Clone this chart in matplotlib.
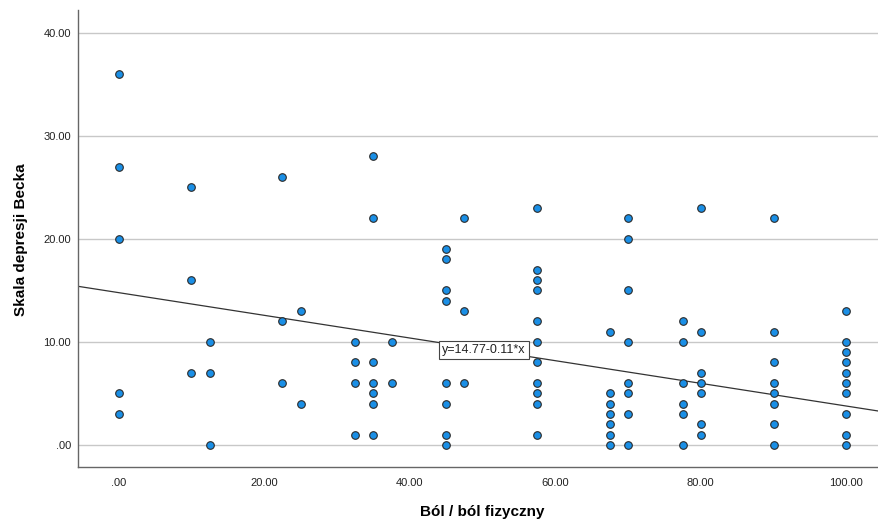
import numpy as np
import matplotlib
matplotlib.use("Agg")
import matplotlib.pyplot as plt

plt.rcParams['font.family'] = ['Liberation Sans', 'DejaVu Sans']

# Ból / ból fizyczny (x) vs Skala depresji Becka (y)
pain = ([0.0] * 5 + [10.0] * 3 + [12.5] * 3 + [22.5] * 3 + [25.0] * 2
        + [32.5] * 4 + [35.0] * 7 + [37.5] * 2 + [45.0] * 8 + [47.5] * 3
        + [57.5] * 11 + [67.5] * 7 + [70.0] * 8 + [77.5] * 6 + [80.0] * 7
        + [90.0] * 8 + [100.0] * 10)
beck = ([36, 27, 20, 5, 3]
        + [25, 16, 7]
        + [10, 7, 0]
        + [26, 12, 6]
        + [13, 4]
        + [10, 8, 6, 1]
        + [28, 22, 8, 6, 5, 4, 1]
        + [10, 6]
        + [19, 18, 15, 14, 6, 4, 1, 0]
        + [22, 13, 6]
        + [23, 17, 16, 15, 12, 10, 8, 6, 5, 4, 1]
        + [11, 5, 4, 3, 2, 1, 0]
        + [22, 20, 15, 10, 6, 5, 3, 0]
        + [12, 10, 6, 4, 3, 0]
        + [23, 11, 7, 6, 5, 2, 1]
        + [22, 11, 8, 6, 5, 4, 2, 0]
        + [13, 10, 9, 8, 7, 6, 5, 3, 1, 0])

intercept = 14.77
slope = -0.11
fit_label = "y=14.77-0.11*x"

x_ticks = [0, 20, 40, 60, 80, 100]
y_ticks = [0, 10, 20, 30, 40]

fig = plt.figure(figsize=(8.79, 5.23), dpi=100)
ax = fig.add_axes([0.0887, 0.107, 0.9113, 0.874])

xlim = (-5.6, 104.5)
ylim = (-2.15, 42.2)
ax.set_xlim(*xlim)
ax.set_ylim(*ylim)

for yt in y_ticks:
    ax.axhline(yt, color='#c8c8c8', lw=1.0, zorder=0)

xl = np.array(xlim)
ax.plot(xl, intercept + slope * xl, color='#333333', lw=0.9, zorder=2)

ax.scatter(pain, beck, s=30, color='#1a8fe6', edgecolors='#2a2a2a',
           linewidths=0.8, zorder=3)

ax.text(50.2, 9.2, fit_label, fontsize=9, ha='center', va='center',
        color='#222222', zorder=4,
        bbox=dict(boxstyle='square,pad=0.25', fc='white', ec='#444444', lw=0.8))

ax.set_xticks(x_ticks)
ax.set_yticks(y_ticks)
ax.set_xticklabels(['.00' if v == 0 else f'{v:.2f}' for v in x_ticks], fontsize=8)
ax.set_yticklabels(['.00' if v == 0 else f'{v:.2f}' for v in y_ticks], fontsize=8)
ax.tick_params(length=0, pad=8, colors='#222222')
ax.tick_params(axis='y', pad=5)

for side in ['top', 'right']:
    ax.spines[side].set_visible(False)
for side in ['left', 'bottom']:
    ax.spines[side].set_color('#666666')
    ax.spines[side].set_linewidth(1.0)

ax.set_xlabel("Ból / ból fizyczny", fontsize=11, fontweight='bold')
ax.set_ylabel("Skala depresji Becka", fontsize=11, fontweight='bold')
ax.xaxis.set_label_coords(0.505, -0.082)
ax.yaxis.set_label_coords(-0.062, 0.497)

fig.savefig("out.png", dpi=100)
